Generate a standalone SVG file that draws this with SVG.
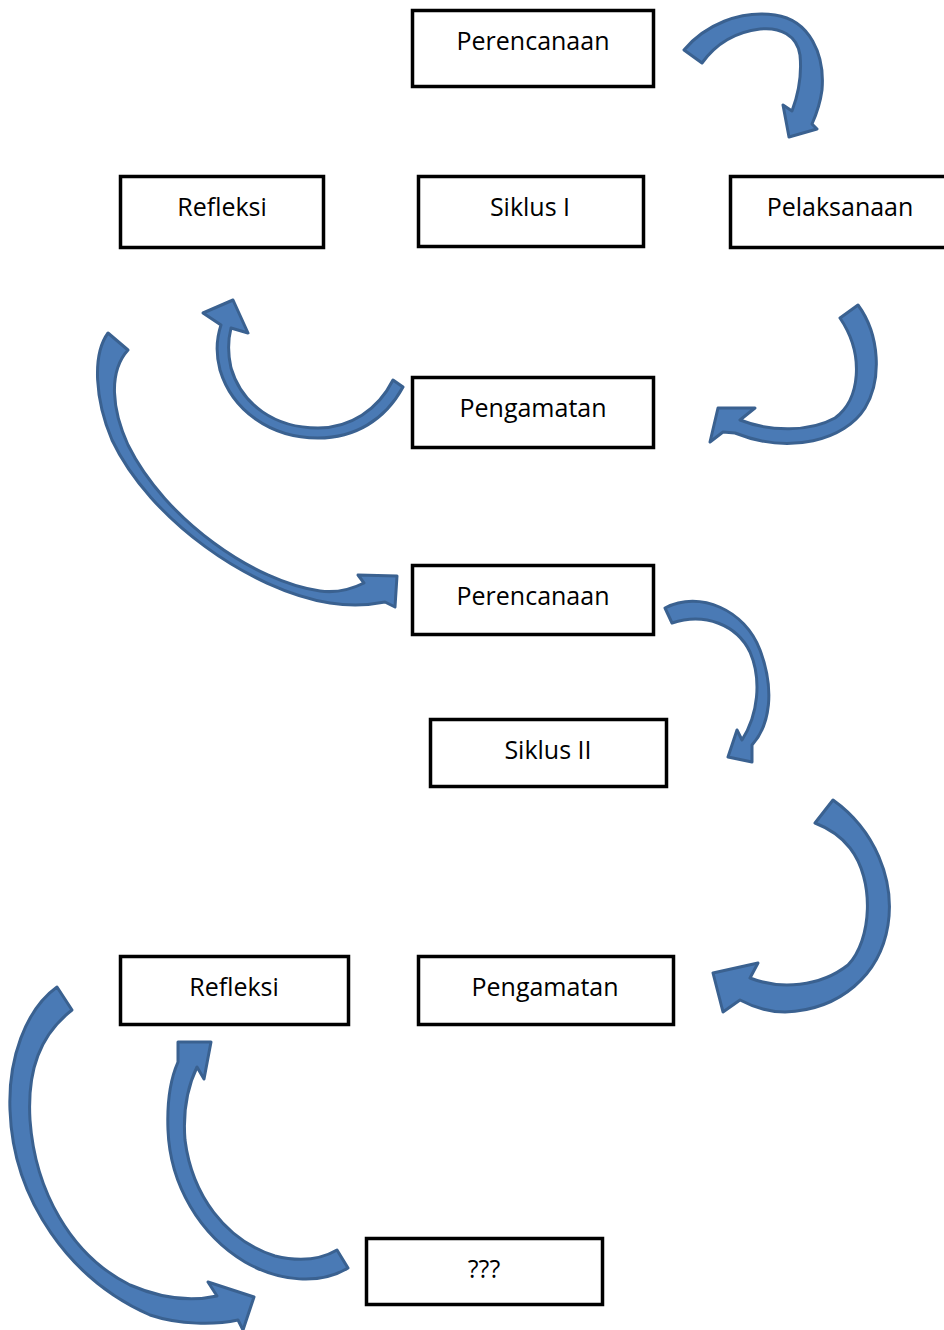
<svg xmlns="http://www.w3.org/2000/svg" width="944" height="1330" viewBox="0 0 944 1330">
<style>
.box{fill:#fff;stroke:#000;stroke-width:3.5}
.lbl{font-family:"Open Sans","Liberation Sans",sans-serif;font-size:25px;fill:#000;text-anchor:middle}
.arr{fill:#4a7ab5;stroke:#3a6190;stroke-width:3;stroke-linejoin:round}
</style>
<rect width="944" height="1330" fill="#fff"/>
<g id="connectors">
<path class="arr" d="M 684 50 C 705 25, 740 10, 775 15 C 810 20, 825 55, 822 90 C 820 105, 816 115, 812 124 L 817 129 L 789 137 L 783 105 L 792 111 C 798 95, 802 75, 800 55 C 797 35, 780 27, 760 29 C 735 32, 715 45, 702 63 Z"/>
<path class="arr" d="M 403 387 C 385 420, 355 438, 318 438 C 270 438, 232 410, 220 370 C 216 355, 216 340, 221 325 L 203 313 L 233 300 L 248 333 L 231 328 C 228 340, 228 355, 231 368 C 242 405, 275 428, 318 428 C 350 428, 378 410, 393 380 Z"/>
<path class="arr" d="M 858 305 C 880 335, 882 380, 865 408 C 845 440, 790 455, 735 433 L 723 432 L 710 442 L 718 408 L 755 408 L 740 420 C 770 432, 810 432, 835 418 C 860 400, 865 355, 840 318 Z"/>
<path class="arr" d="M 108 333 C 92 355, 95 400, 112 440 C 150 520, 250 590, 330 603 C 350 606, 370 605, 385 602 L 395 607 L 397 576 L 358 575 L 364 583 C 350 590, 335 593, 320 591 C 255 582, 165 520, 128 445 C 112 410, 108 372, 128 350 Z"/>
<path class="arr" d="M 665 608 C 700 590, 745 610, 760 650 C 775 690, 770 725, 752 745 L 752 762 L 728 757 L 737 730 L 742 740 C 758 715, 762 680, 750 652 C 737 625, 705 612, 672 623 Z"/>
<path class="arr" d="M 833 800 C 875 830, 895 880, 888 925 C 880 975, 840 1010, 785 1012 C 770 1012, 755 1008, 740 1000 L 723 1012 L 713 973 L 758 963 L 750 978 C 780 990, 820 987, 848 965 C 872 940, 875 880, 850 848 C 840 835, 828 828, 815 823 Z"/>
<path class="arr" d="M 57 987 C 25 1010, 8 1060, 10 1110 C 13 1200, 70 1280, 150 1315 C 180 1325, 215 1325, 238 1320 L 243 1330 L 254 1297 L 208 1282 L 217 1296 C 190 1302, 160 1298, 130 1285 C 70 1255, 35 1190, 30 1120 C 27 1070, 40 1035, 72 1010 Z"/>
<path class="arr" d="M 348 1268 C 320 1285, 280 1282, 245 1262 C 200 1235, 170 1185, 168 1130 C 167 1105, 170 1080, 178 1062 L 178 1042 L 211 1042 L 204 1079 L 197 1067 C 186 1090, 183 1115, 185 1140 C 192 1195, 225 1240, 275 1256 C 300 1262, 320 1260, 337 1250 Z"/>
</g>
<g id="perencanaan1"><rect class="box" x="412.5" y="10.5" width="241" height="76"/><text class="lbl" x="533" y="50">Perencanaan</text></g>
<g id="refleksi1"><rect class="box" x="120.5" y="176.5" width="203" height="71"/><text class="lbl" x="222" y="216">Refleksi</text></g>
<g id="siklus1"><rect class="box" x="418.5" y="176.5" width="225" height="70"/><text class="lbl" x="530" y="216">Siklus I</text></g>
<g id="pelaksanaan"><rect class="box" x="730.5" y="176.5" width="230" height="71"/><text class="lbl" x="840" y="216">Pelaksanaan</text></g>
<g id="pengamatan1"><rect class="box" x="412.5" y="377.5" width="241" height="70"/><text class="lbl" x="533" y="417">Pengamatan</text></g>
<g id="perencanaan2"><rect class="box" x="412.5" y="565.5" width="241" height="69"/><text class="lbl" x="533" y="605">Perencanaan</text></g>
<g id="siklus2"><rect class="box" x="430.5" y="719.5" width="236" height="67"/><text class="lbl" x="548" y="759">Siklus II</text></g>
<g id="refleksi2"><rect class="box" x="120.5" y="956.5" width="228" height="68"/><text class="lbl" x="234" y="996">Refleksi</text></g>
<g id="pengamatan2"><rect class="box" x="418.5" y="956.5" width="255" height="68"/><text class="lbl" x="545" y="996">Pengamatan</text></g>
<g id="unknown"><rect class="box" x="366.5" y="1238.5" width="236" height="66"/><text class="lbl" x="484" y="1278">???</text></g>
</svg>
